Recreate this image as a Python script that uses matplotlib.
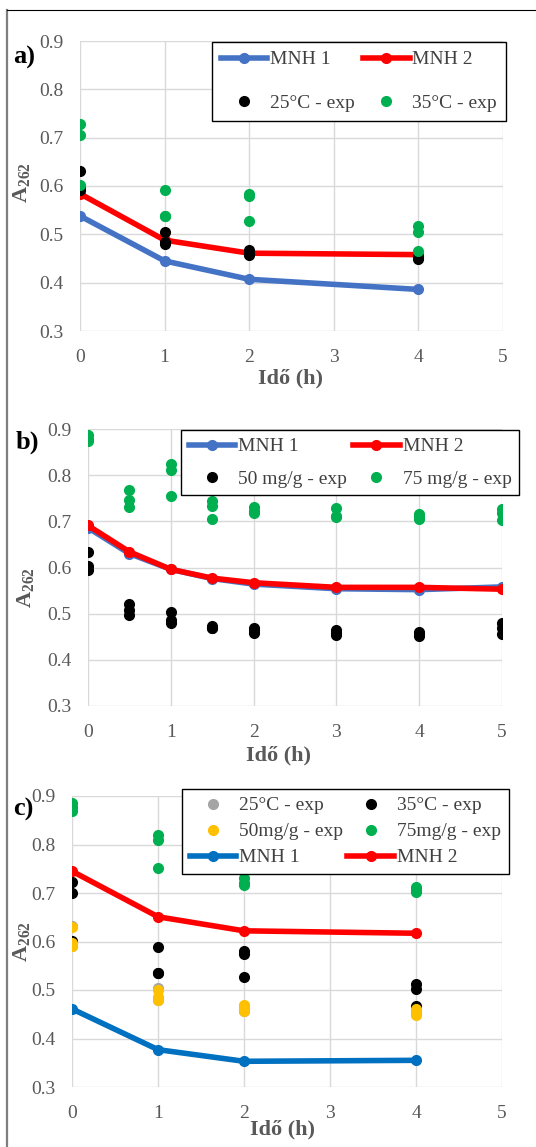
import numpy as np
import matplotlib
matplotlib.use("Agg")
import matplotlib.pyplot as plt
from matplotlib.lines import Line2D

plt.rcParams['font.family'] = ['Liberation Serif', 'DejaVu Serif']
plt.rcParams['mathtext.fontset'] = 'custom'
plt.rcParams['mathtext.rm'] = 'Liberation Serif'
plt.rcParams['mathtext.bf'] = 'Liberation Serif:bold'
plt.rcParams['mathtext.default'] = 'bf'

# ---- adatok ----
# a) hőmérséklet
t_a = [0, 1, 2, 4]
mnh1_a = [0.538, 0.445, 0.407, 0.386]
mnh2_a = [0.584, 0.488, 0.461, 0.458]
t_a_exp = [0, 0, 0, 1, 1, 1, 2, 2, 2, 4, 4, 4]
exp25_a = [0.631, 0.598, 0.591, 0.505, 0.484, 0.479, 0.468, 0.460, 0.457, 0.453, 0.450, 0.455]
exp35_a = [0.728, 0.705, 0.603, 0.592, 0.538, 0.538, 0.584, 0.579, 0.528, 0.517, 0.505, 0.466]

# b) adszorbens mennyiség
t_b = [0, 0.5, 1, 1.5, 2, 3, 4, 5]
mnh1_b = [0.686, 0.630, 0.596, 0.576, 0.564, 0.554, 0.552, 0.558]
mnh2_b = [0.691, 0.634, 0.596, 0.577, 0.567, 0.557, 0.557, 0.553]
t_b_exp = [0, 0, 0, 0.5, 0.5, 0.5, 1, 1, 1, 1.5, 1.5, 1.5,
           2, 2, 2, 3, 3, 3, 4, 4, 4, 5, 5, 5]
exp50_b = [0.634, 0.603, 0.595, 0.521, 0.508, 0.497, 0.504, 0.486, 0.479, 0.473, 0.468, 0.470,
           0.470, 0.465, 0.459, 0.465, 0.459, 0.454, 0.461, 0.457, 0.452, 0.480, 0.468, 0.455]
exp75_b = [0.886, 0.878, 0.873, 0.768, 0.746, 0.730, 0.824, 0.811, 0.755, 0.743, 0.733, 0.706,
           0.732, 0.717, 0.722, 0.728, 0.710, 0.712, 0.715, 0.710, 0.705, 0.726, 0.717, 0.703]

# c) kombinált
t_c = [0, 1, 2, 4]
mnh1_c = [0.461, 0.377, 0.353, 0.355]
mnh2_c = [0.745, 0.651, 0.622, 0.617]
t_c_exp = [0, 0, 0, 1, 1, 1, 2, 2, 2, 4, 4, 4]
exp25_c = [0.631, 0.598, 0.591, 0.505, 0.484, 0.479, 0.468, 0.460, 0.457, 0.453, 0.450, 0.455]
exp35_c = [0.723, 0.700, 0.601, 0.588, 0.535, 0.535, 0.581, 0.575, 0.526, 0.513, 0.503, 0.466]
exp50_c = [0.629, 0.596, 0.590, 0.501, 0.486, 0.479, 0.469, 0.462, 0.457, 0.460, 0.453, 0.448]
exp75_c = [0.885, 0.878, 0.870, 0.820, 0.809, 0.751, 0.730, 0.716, 0.720, 0.713, 0.707, 0.703]

x_ticks = [0, 1, 2, 3, 4, 5]
y_ticks = [0.3, 0.4, 0.5, 0.6, 0.7, 0.8, 0.9]

W, H = 536, 1147
fig = plt.figure(figsize=(W / 100, H / 100), dpi=100)

BLUE = '#4472C4'
BLUE_C = '#0070C0'
RED = '#FF0000'
GREEN = '#00B050'
YELLOW = '#FFC000'
GREY = '#A5A5A5'
TXT = '#595959'


def px_axes(l, t, r, b):
    return fig.add_axes([l / W, 1 - b / H, (r - l) / W, (b - t) / H])


def fx(x, y):
    return x / W, 1 - y / H


def style_axes(ax, xlab_pos, ylab_pos):
    ax.set_xlim(0, 5)
    ax.set_ylim(0.3, 0.9)
    ax.set_xticks(x_ticks)
    ax.set_yticks(y_ticks)
    ax.set_yticklabels([f"{v:.1f}" for v in y_ticks])
    for s in ax.spines.values():
        s.set_visible(False)
    ax.grid(True, color='#D9D9D9', linewidth=1)
    ax.set_axisbelow(True)
    ax.tick_params(length=0, labelsize=14, labelcolor=TXT)
    ax.tick_params(axis='x', pad=13)
    ax.tick_params(axis='y', pad=12)
    ax.set_xlabel('Idő (h)', fontsize=16, fontweight='bold', color=TXT, va='center')
    ax.xaxis.set_label_coords(*fx(*xlab_pos), transform=fig.transFigure)
    ax.set_ylabel('A$_{262}$', fontsize=16, fontweight='bold', color=TXT, va='center')
    ax.yaxis.set_label_coords(*fx(*ylab_pos), transform=fig.transFigure)


def line_handle(c, label):
    return Line2D([], [], color=c, lw=4, marker='o', ms=7, label=label)


def dot_handle(c, label):
    return Line2D([], [], color=c, lw=0, marker='o', ms=7, label=label)


def legend(ax, handles, x, y, spacing, colsp, bpad=0.4):
    leg = ax.legend(handles=handles, ncol=2, loc='upper left',
                    bbox_to_anchor=fx(x, y), bbox_transform=fig.transFigure,
                    borderaxespad=0, fontsize=14, frameon=True, fancybox=False,
                    framealpha=1, edgecolor='black', handlelength=2.4,
                    handletextpad=0.15, labelspacing=spacing, columnspacing=colsp,
                    borderpad=bpad, numpoints=1, labelcolor='#404040')
    leg.get_frame().set_linewidth(1)
    return leg


# ---- a) ----
ax = px_axes(80, 41, 503, 331)
ax.plot(t_a, mnh1_a, color=BLUE, lw=4, marker='o', ms=7)
ax.plot(t_a, mnh2_a, color=RED, lw=4, marker='o', ms=7)
ax.plot(t_a_exp, exp25_a, 'o', color='black', ms=7)
ax.plot(t_a_exp, exp35_a, 'o', color=GREEN, ms=7)
style_axes(ax, (291, 378), (22, 183))
legend(ax, [line_handle(BLUE, 'MNH 1'), dot_handle('black', '25°C - exp'),
            line_handle(RED, 'MNH 2'), dot_handle(GREEN, '35°C - exp')],
       212, 42, 1.35, 0.4, bpad=0.45)

# ---- b) ----
ax = px_axes(88, 429, 502, 706)
ax.plot(t_b, mnh1_b, color=BLUE, lw=4, marker='o', ms=7)
ax.plot(t_b, mnh2_b, color=RED, lw=4, marker='o', ms=7)
ax.plot(t_b_exp, exp50_b, 'o', color='black', ms=7)
ax.plot(t_b_exp, exp75_b, 'o', color=GREEN, ms=7)
style_axes(ax, (278, 755), (25, 588))
legend(ax, [line_handle(BLUE, 'MNH 1'), dot_handle('black', '50 mg/g - exp'),
            line_handle(RED, 'MNH 2'), dot_handle(GREEN, '75 mg/g - exp')],
       181, 430, 0.75, 0.3)

# ---- c) ----
ax = px_axes(72, 796, 502, 1087)
ax.plot(t_c_exp, exp25_c, 'o', color=GREY, ms=7)
ax.plot(t_c_exp, exp35_c, 'o', color='black', ms=7)
ax.plot(t_c_exp, exp50_c, 'o', color=YELLOW, ms=7)
ax.plot(t_c_exp, exp75_c, 'o', color=GREEN, ms=7)
ax.plot(t_c, mnh1_c, color=BLUE_C, lw=4, marker='o', ms=7)
ax.plot(t_c, mnh2_c, color=RED, lw=4, marker='o', ms=7)
style_axes(ax, (282, 1129), (22, 942))
legend(ax, [dot_handle(GREY, '25°C - exp'), dot_handle(YELLOW, '50mg/g - exp'),
            line_handle(BLUE_C, 'MNH 1'),
            dot_handle('black', '35°C - exp'), dot_handle(GREEN, '75mg/g - exp'),
            line_handle(RED, 'MNH 2')],
       182, 789, 0.43, 0.2)

# panel betűk
for lab, (x, y) in zip(['a)', 'b)', 'c)'], [(24, 57), (27, 442), (23, 809)]):
    fig.text(*fx(x, y), lab, fontsize=19, fontweight='bold', color='black',
             ha='center', va='center')

# keret
fig.add_artist(Line2D([7 / W, 7 / W], [0, 1 - 10 / H], transform=fig.transFigure,
                      color='#7F7F7F', lw=1.6))
fig.add_artist(Line2D([7 / W, 1], [1 - 10 / H, 1 - 10 / H], transform=fig.transFigure,
                      color='black', lw=0.8))

fig.savefig('out.png', dpi=100)
